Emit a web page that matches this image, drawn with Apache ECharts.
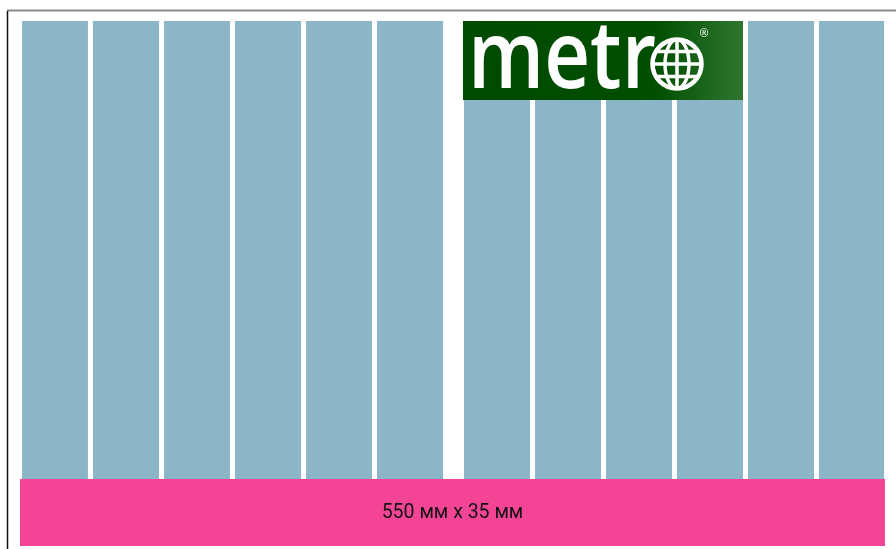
<!DOCTYPE html>
<html>
<head>
<meta charset="utf-8">
<script src="https://cdn.jsdelivr.net/npm/echarts@6/dist/echarts.min.js"></script>
<style>html,body{margin:0;padding:0;background:#fff;}#c{width:896px;height:549px;}</style>
</head>
<body>
<div id="c"></div>
<script>
// Page layout data (mm across, schematic units up)
const pageWidth = 550;
const bandHeight = 35;
const pageTop = 274;
const bandLabel = '550 мм x 35 мм';
const columnStarts = [1.3, 46.4, 91.6, 136.7, 181.9, 227.0, 282.3, 327.5, 372.6, 417.7, 462.9, 508.0];
const columnEnds   = [43.2, 88.4, 133.5, 178.7, 223.8, 269.0, 324.3, 369.4, 414.6, 459.7, 504.9, 549.4];
const logoText = 'metr';

const columnData = columnStarts.map((s, i) => [s, columnEnds[i], bandHeight, pageTop]);
const bandData = [[0, pageWidth, 0, bandHeight]];

const chart = echarts.init(document.getElementById('c'), null, {renderer: 'canvas'});

function rectItem(api, fill) {
  const p0 = api.coord([api.value(0), api.value(2)]);
  const p1 = api.coord([api.value(1), api.value(3)]);
  return {x: p0[0], y: p1[1], width: p1[0] - p0[0], height: p0[1] - p1[1], fill: fill};
}

// globe
const R = 24.5;
const lat = 12.5;
const half = Math.sqrt(R * R - lat * lat);
const gx = 677, gy = 64;
const white = '#ffffff';

chart.setOption({
  animation: false,
  grid: {left: 20, right: 11, top: 21, bottom: 3},
  xAxis: {type: 'value', min: 0, max: pageWidth, show: false},
  yAxis: {type: 'value', min: 0, max: pageTop, show: false},
  series: [
    {
      type: 'custom',
      data: columnData,
      renderItem: function (params, api) {
        const r = rectItem(api, '#8cb6c8');
        return {type: 'rect', shape: {x: r.x, y: r.y, width: r.width, height: r.height}, style: {fill: r.fill}};
      }
    },
    {
      type: 'custom',
      data: bandData,
      renderItem: function (params, api) {
        const r = rectItem(api, '#f44495');
        return {
          type: 'group',
          children: [
            {type: 'rect', shape: {x: r.x, y: r.y, width: r.width, height: r.height}, style: {fill: r.fill}},
            {type: 'text', x: r.x + r.width / 2, y: r.y + r.height / 2 + 1,
              style: {text: bandLabel, fill: '#141414', font: '19.5px Roboto', align: 'center', verticalAlign: 'middle'}}
          ]
        };
      }
    }
  ],
  graphic: [
    {type: 'line', shape: {x1: 7, y1: 10.5, x2: 896, y2: 10.5}, style: {stroke: '#8a8a8a', lineWidth: 2}},
    {type: 'line', shape: {x1: 7.5, y1: 11, x2: 7.5, y2: 549}, style: {stroke: '#111', lineWidth: 1.5}},
    {
      type: 'rect', shape: {x: 463, y: 21, width: 280, height: 79},
      style: {fill: new echarts.graphic.LinearGradient(0, 0, 1, 0, [
        {offset: 0, color: '#004a00'}, {offset: 0.68, color: '#004e00'}, {offset: 1, color: '#2f7631'}
      ])},
      z: 10
    },
    {
      type: 'text', x: 468, y: 61, scaleX: 0.84, z: 11,
      style: {text: logoText, fill: white, font: '600 95px "Open Sans"', verticalAlign: 'middle', align: 'left'}
    },
    {type: 'circle', z: 12, shape: {cx: gx, cy: gy, r: R}, style: {fill: 'none', stroke: white, lineWidth: 4.5}},
    {type: 'ellipse', z: 12, shape: {cx: gx, cy: gy, rx: 12, ry: R}, style: {fill: 'none', stroke: white, lineWidth: 3.5}},
    {type: 'line', z: 12, shape: {x1: gx, y1: gy - R, x2: gx, y2: gy + R}, style: {stroke: white, lineWidth: 3.5}},
    {type: 'line', z: 12, shape: {x1: gx - R, y1: gy, x2: gx + R, y2: gy}, style: {stroke: white, lineWidth: 3.5}},
    {type: 'line', z: 12, shape: {x1: gx - half, y1: gy - lat, x2: gx + half, y2: gy - lat}, style: {stroke: white, lineWidth: 3.5}},
    {type: 'line', z: 12, shape: {x1: gx - half, y1: gy + lat, x2: gx + half, y2: gy + lat}, style: {stroke: white, lineWidth: 3.5}},
    {
      type: 'text', x: 704, y: 34, z: 12,
      style: {text: '®', fill: white, font: '11px "Open Sans"', align: 'center', verticalAlign: 'middle'}
    }
  ]
});
</script>
</body>
</html>
